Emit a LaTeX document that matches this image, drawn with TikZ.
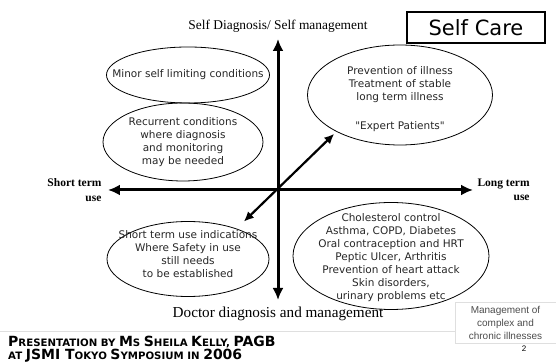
\documentclass[tikz,border=0pt]{standalone}
\usepackage{fontspec}
\setmainfont{Liberation Serif}
\setsansfont{DejaVu Sans}
\newfontfamily\ovalfont{DejaVu Sans}
\newfontfamily\arialfont{Liberation Sans}
\usetikzlibrary{arrows.meta,shapes,positioning}

\newcommand\initcap[1]{{\fontsize{14}{14}\selectfont #1}}

\tikzset{
  axis/.style={{Latex[length=12pt,width=11pt]}-{Latex[length=12pt,width=11pt]}, line width=3pt},
  diag/.style={{Latex[length=10pt,width=9pt]}-{Latex[length=10pt,width=9pt]}, line width=2.2pt},
  oval/.style={draw, ellipse, line width=0.8pt, inner sep=0pt},
  ovaltext/.style={align=center, text=black!85, font=\ovalfont\fontsize{10.5}{13}\selectfont},
}

\begin{document}
\begin{tikzpicture}[x=1pt,y=1pt]
\useasboundingbox (-278,-173) rectangle (278,190);
\coordinate(O) at (0,0);
\coordinate(N) at (0,151);
\coordinate(S) at (0,-110);
\coordinate(W) at (-170,0);
\coordinate(E) at (195,0);

\node[above=3.5pt of N, font=\fontsize{13.4}{15}\selectfont](selfdiag) {Self Diagnosis/ Self management};
\node[below=3.5pt of S, font=\fontsize{15.2}{17}\selectfont](doctor) {Doctor diagnosis and management};
\node[left=3pt of W, align=right, font=\bfseries\fontsize{11.5}{15}\selectfont](shortuse) {Short term\\use};
\node[right=1pt of E, align=right, font=\bfseries\fontsize{11.5}{14}\selectfont](longuse) {Long term\\use};

\node[draw, line width=1.6pt, minimum width=138pt, minimum height=31pt, font=\sffamily\fontsize{21}{22}\selectfont](selfcare) at (198,162.5) {Self Care};

\node[oval, minimum width=163pt, minimum height=56pt](minor) at (-90,115) {};
\node[ovaltext](minorT) at (minor) {Minor self limiting conditions};

\node[oval, minimum width=160pt, minimum height=78pt](recur) at (-95,48) {};
\node[ovaltext](recurT) at (recur) {Recurrent conditions\\where diagnosis\\and monitoring\\may be needed};

\node[oval, minimum width=185pt, minimum height=100pt](expert) at (122,95) {};
\node[ovaltext, yshift=-4pt](expertT) at (expert) {Prevention of illness\\Treatment of stable\\long term illness\\[16pt]"Expert Patients"};

\node[oval, minimum width=162pt, minimum height=75pt](short) at (-90,-69) {};
\node[ovaltext, yshift=5pt](shortT) at (short) {Short term use indications\\Where Safety in use\\still needs\\to be established};

\node[oval, minimum width=196pt, minimum height=107pt](chronic) at (113,-66) {};
\node[ovaltext, yshift=-2pt](chronicT) at (chronic) {Cholesterol control\\Asthma, COPD, Diabetes\\Oral contraception and HRT\\Peptic Ulcer, Arthritis\\Prevention of heart attack\\Skin disorders,\\urinary problems etc};

\node[draw=gray!25, line width=0.8pt, minimum width=101pt, minimum height=41pt, inner sep=2pt, align=center, text=black!70, font=\arialfont\fontsize{10}{13}\selectfont](mgmt) at (227.5,-132.5) {Management of\\complex and\\chronic illnesses};
\node[font=\arialfont\fontsize{8}{9}\selectfont](pagenum) at (246,-159) {2};

\node[anchor=west, align=left, inner sep=0pt, font=\sffamily\bfseries\fontsize{10.2}{13.5}\selectfont](credit) at (-270,-159)
  {\initcap{P}RESENTATION BY \initcap{M}S \initcap{S}HEILA \initcap{K}ELLY, \initcap{PAGB}\\
   AT \initcap{JSMI T}OKYO \initcap{S}YMPOSIUM IN \initcap{2006}};

\coordinate(R) at (-278,-141);
\draw[gray!25, line width=0.8pt] (R) -- (R -| mgmt.west);

\draw[axis] (N) -- (S);
\draw[axis] (W) -- (E);
\draw[diag, shorten <=10pt, shorten >=3pt] (short.32) -- (expert.210);
\end{tikzpicture}
\end{document}
